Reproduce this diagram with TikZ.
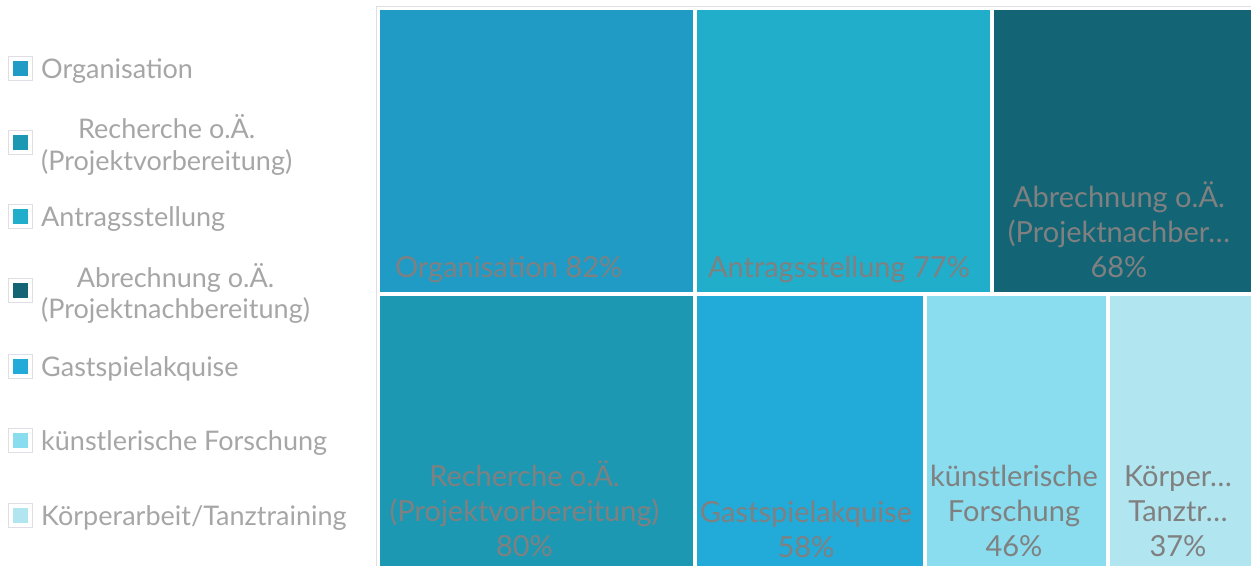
\documentclass[tikz,border=0pt]{standalone}
\usepackage{fontspec}
\setmainfont{Lato}
\definecolor{cOrg}{RGB}{31,155,197}
\definecolor{cRech}{RGB}{29,152,179}
\definecolor{cAntr}{RGB}{33,174,203}
\definecolor{cAbr}{RGB}{19,101,118}
\definecolor{cGast}{RGB}{34,170,216}
\definecolor{cKuen}{RGB}{138,221,238}
\definecolor{cKoer}{RGB}{177,230,240}
\definecolor{tileTxt}{RGB}{128,128,128}
\definecolor{legTxt}{RGB}{166,166,166}
\definecolor{frameCol}{RGB}{222,222,228}
\tikzset{
  tile/.style={draw=none, inner sep=0pt, outer sep=0pt, anchor=north west},
  tilelabel/.style={text=tileTxt, inner sep=0pt, align=center, anchor=base,
    font=\fontsize{29}{35}\selectfont},
  legbox/.style={draw=frameCol, line width=0.6pt, fill=white, minimum size=24pt, inner sep=0pt},
  legsq/.style={inner sep=0pt, minimum size=15pt, draw=none},
  legtext/.style={text=legTxt, inner sep=0pt, align=center, anchor=west,
    font=\fontsize{27}{31.6}\selectfont}
}
\begin{document}
\begin{tikzpicture}[x=1pt,y=-1pt]
\useasboundingbox (0,0) rectangle (1251,566);
% plot area frame
\draw[frameCol, line width=1pt] (376.5,566) -- (376.5,6.5) -- (1251,6.5);
% tiles
\node[tile, fill=cOrg,  minimum width=313pt,   minimum height=282.5pt] (org)  at (380,9.5) {};
\node[tile, fill=cAntr, minimum width=292.5pt, minimum height=282.5pt] (antr) at (697,9.5) {};
\node[tile, fill=cAbr,  minimum width=257pt,   minimum height=282.5pt] (abr)  at (994,9.5) {};
\node[tile, fill=cRech, minimum width=313pt,   minimum height=270pt]   (rech) at (380,296) {};
\node[tile, fill=cGast, minimum width=226pt,   minimum height=270pt]   (gast) at (697,296) {};
\node[tile, fill=cKuen, minimum width=178.5pt, minimum height=270pt]   (kuen) at (927,296) {};
\node[tile, fill=cKoer, minimum width=141.5pt, minimum height=270pt]   (koer) at (1109.5,296) {};
% tile labels (anchor = baseline of the last line)
\node[tilelabel] (orgL)  at (508.7,277) {Organisation 82\%};
\node[tilelabel] (antrL) at (839,277) {Antragsstellung 77\%};
\node[tilelabel] (abrL)  at (1119,277) {Abrechnung o.Ä.\\(Projektnachber…\\68\%};
\node[tilelabel] (rechL) at (524.5,556.7) {Recherche o.Ä.\\(Projektvorbereitung)\\80\%};
\node[tilelabel] (gastL) at (806,557) {Gastspielakquise\\58\%};
\node[tilelabel] (kuenL) at (1014,556.7) {künstlerische\\Forschung\\46\%};
\node[tilelabel] (koerL) at (1178,556.7) {Körper…\\Tanztr…\\37\%};
% legend
\foreach \y/\c/\n in {68.3/cOrg/l1, 142.3/cRech/l2, 216.7/cAntr/l3, 290.7/cAbr/l4, 366/cGast/l5, 440.7/cKuen/l6, 515/cKoer/l7}{
  \node[legbox] (\n box) at (20.3,\y) {};
  \node[legsq, fill=\c] (\n sq) at (20.5,\y) {};
}
\node[legtext] (l1t) at (41,71) {Organisation};
\node[legtext] (l2t) at (41,145) {Recherche o.Ä.\\(Projektvorbereitung)};
\node[legtext] (l3t) at (41,219.5) {Antragsstellung};
\node[legtext] (l4t) at (41,293.5) {Abrechnung o.Ä.\\(Projektnachbereitung)};
\node[legtext] (l5t) at (41,369) {Gastspielakquise};
\node[legtext] (l6t) at (41,443.5) {künstlerische Forschung};
\node[legtext] (l7t) at (41,518) {Körperarbeit/Tanztraining};
\end{tikzpicture}
\end{document}
